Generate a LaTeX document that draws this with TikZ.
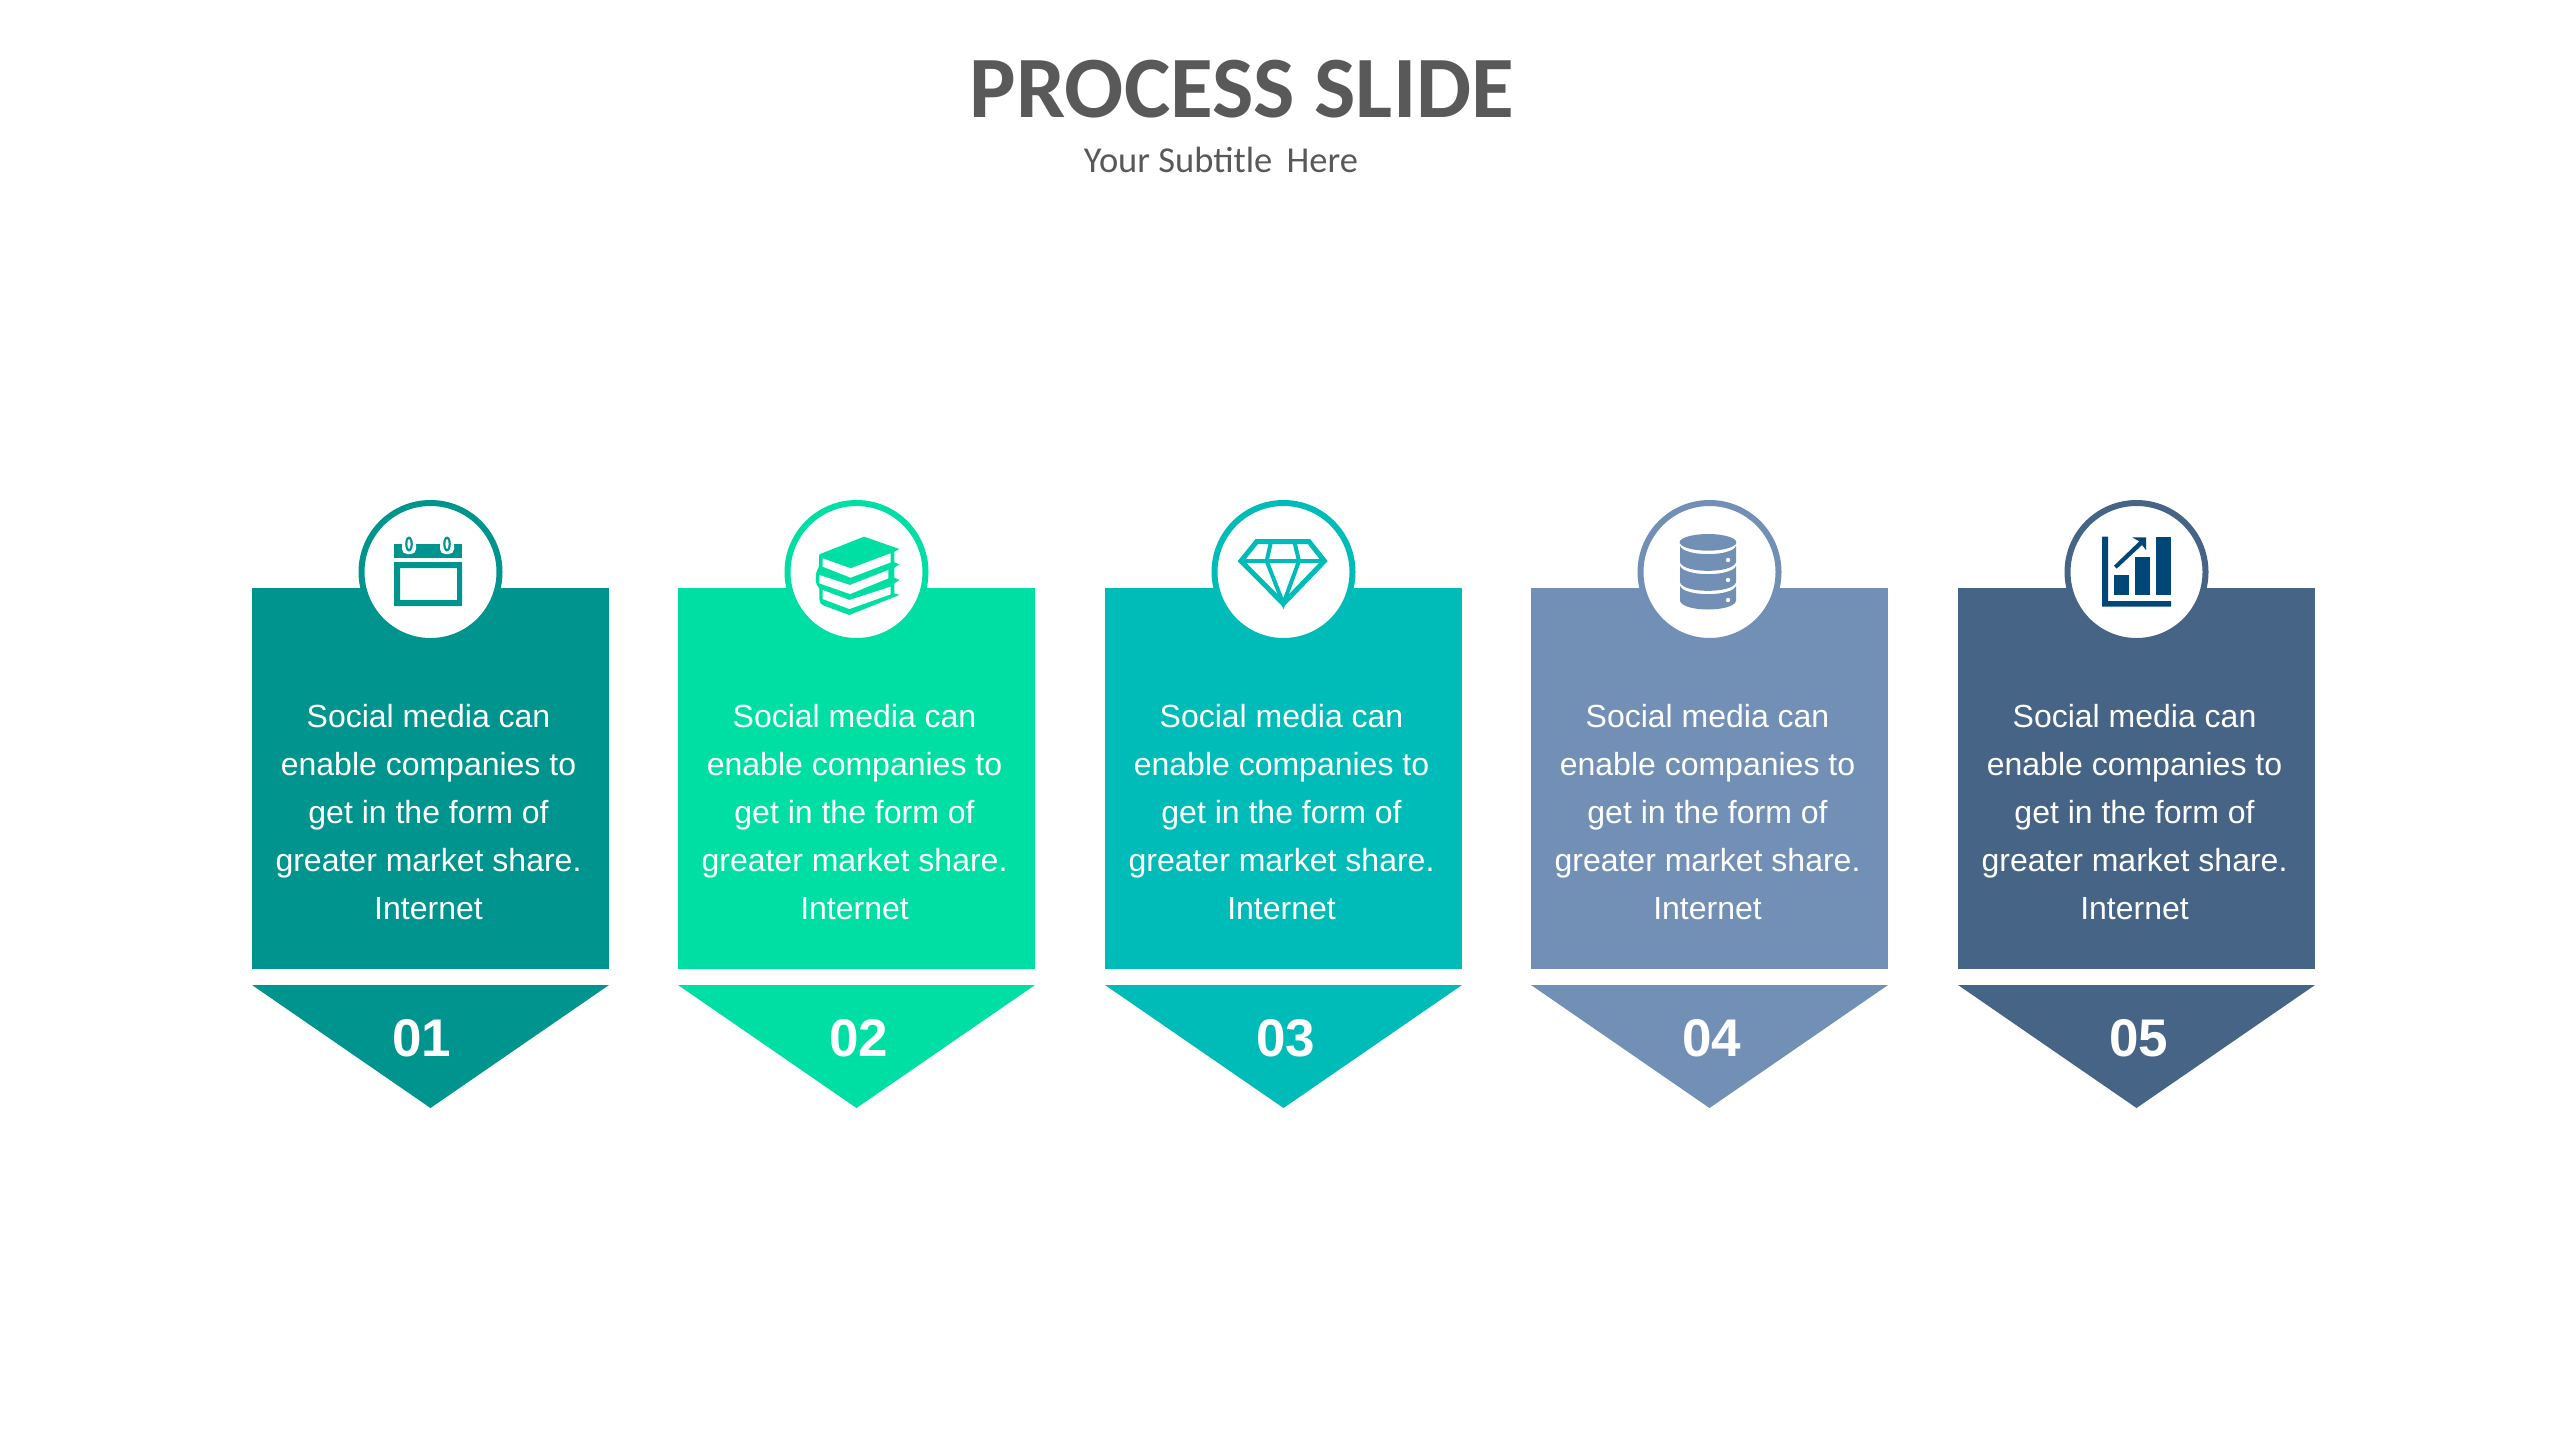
\documentclass[tikz,border=0pt]{standalone}
\usepackage{fontspec}
\setmainfont{Liberation Sans}
\newfontfamily\carlito{Carlito}
\definecolor{cA}{HTML}{00948F}
\definecolor{cB}{HTML}{00DFA3}
\definecolor{cC}{HTML}{00BCB8}
\definecolor{cD}{HTML}{7290B5}
\definecolor{cE}{HTML}{466485}
\definecolor{cIcon}{HTML}{004778}
\definecolor{cTitle}{HTML}{595959}
\tikzset{
  cardbox/.style={rectangle,fill=#1,draw=none,minimum width=357pt,minimum height=381pt,inner sep=0pt},
  badge/.style={circle,fill=white,draw=#1,line width=6pt,minimum size=138pt,inner sep=0pt},
  bodytext/.style={align=center,text=white,inner sep=0pt,font=\fontsize{32}{48}\selectfont},
  numtext/.style={anchor=base,text=white,inner sep=0pt,font=\fontsize{53}{53}\selectfont\bfseries}
}
\begin{document}
\begin{tikzpicture}[x=1pt,y=-1pt]
\useasboundingbox[fill=white] (0,0) rectangle (2559,1440);
\node[anchor=base,text=cTitle,inner sep=0pt,font=\carlito\bfseries\fontsize{87.5}{87.5}\selectfont] (title) at (1242,117) {PROCESS SLIDE};
\node[anchor=base,text=cTitle,inner sep=0pt,font=\carlito\fontsize{36.5}{37}\selectfont] (subtitle) at (1221,172) {Your Subtitle\, Here};
\foreach \i/\cx/\col/\nx in {1/430.5/cA/-9,2/856.5/cB/2,3/1283.5/cC/2,4/1709.5/cD/2,5/2136.5/cE/2}{
  \node[cardbox=\col] (card\i) at (\cx,778.5) {};
  \fill[\col] (\cx-178.5,985) -- (\cx+178.5,985) -- (\cx,1108) -- cycle;
  \node[badge=\col] (badge\i) at (\cx,572) {};
  \node[bodytext] (text\i) at (\cx-2,812) {Social media can\\enable companies to\\get in the form of\\greater market share.\\Internet};
  \node[numtext] (num\i) at (\cx+\nx,1056) {0\i};
}
% calendar
\fill[cA] (394,544) rectangle (462,558);
\fill[cA,even odd rule] (394,562) rectangle (462,606) (400,568) rectangle (457,600);
\foreach \rx in {409,447}{
  \fill[white,rounded corners=5pt] (\rx-7,540) rectangle (\rx+7,554);
  \fill[cA] (\rx,544) ellipse [x radius=3.8,y radius=7.5];
  \fill[white] (\rx,544) ellipse [x radius=1.6,y radius=5];
}
% books
\begin{scope}[shift={(800,525)},scale=1/3]
  \fill[cB,line join=round] (58,88) -- (192,35) -- (298,72) -- (283,80) -- (283,112) -- (298,118) -- (283,128) -- (283,158) -- (298,165) -- (283,175) -- (283,205) -- (298,210) -- (148,270) -- (72,242) .. controls (60,236) and (58,230) .. (58,222) -- (58,190) .. controls (45,180) and (44,150) .. (52,135) .. controls (60,128) and (56,100) .. cycle;
  \fill[white] (68,100) -- (152,130) -- (272,85) -- (272,112) -- (152,158) -- (68,125) -- cycle;
  \fill[white] (58,150) -- (150,180) -- (265,135) -- (265,160) -- (150,207) -- (58,175) -- cycle;
  \fill[white] (68,195) -- (148,225) -- (272,185) -- (272,208) -- (148,252) -- (68,222) -- cycle;
\end{scope}
% diamond
\begin{scope}[shift={(1225,525)},scale=1/3]
  \draw[cC,line width=5pt,line join=miter] (95,50) -- (252,50) -- (298,108) -- (175,236) -- (48,108) -- cycle;
  \draw[cC,line width=4.5pt] (48,108) -- (298,108);
  \draw[cC,line width=4pt] (138,50) -- (125,108) -- (175,236) -- (222,108) -- (208,50);
\end{scope}
% database
\begin{scope}[shift={(1655,525)},scale=1/3]
  \fill[cD] (159,52) ellipse [x radius=85,y radius=25];
  \foreach \t/\b/\dy in {62/112/105,122/172/165,182/228/225}{
    \fill[cD] (75,\t) .. controls (85,\t+34) and (233,\t+34) .. (243,\t) -- (243,\b) .. controls (233,\b+34) and (85,\b+34) .. (75,\b) -- cycle;
    \fill[white] (219,\dy) circle [radius=6.5];
  }
\end{scope}
% chart
\begin{scope}[shift={(2082,525)},scale=1/3]
  \fill[cIcon] (60,35) -- (78,35) -- (78,228) -- (267,228) -- (267,245) -- (60,245) -- cycle;
  \fill[cIcon] (96,150) rectangle (141,210);
  \fill[cIcon] (159,96) rectangle (204,210);
  \fill[cIcon] (222,35) rectangle (267,210);
  \fill[cIcon] (96,122) -- (172,49) -- (150,37) -- (192,37) -- (192,75) -- (180,60) -- (104,131) -- cycle;
\end{scope}
\end{tikzpicture}
\end{document}
